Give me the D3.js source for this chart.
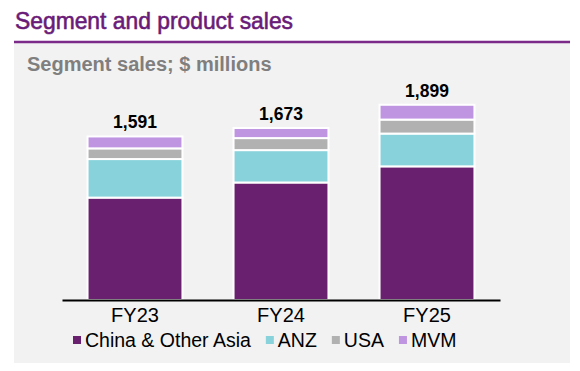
<!DOCTYPE html>
<html>
<head>
<meta charset="utf-8">
<script src="https://cdn.jsdelivr.net/npm/d3@7"></script>
<style>
    body { margin: 0; background: #fff; }
    svg { display: block; font-family: "Liberation Sans", Arial, sans-serif; }
</style>
</head>
<body>
<svg id="chart" width="580" height="371"></svg>
<script>
// data ($ millions)
const years = ["FY23", "FY24", "FY25"];
const segments = ["China & Other Asia", "ANZ", "USA", "MVM"];
const chinaAsia = [996, 1143, 1300];
const anz = [375, 315, 319];
const usa = [104, 117, 136];
const mvm = [116, 98, 144];
const totals = [1591, 1673, 1899];

const colors = ["#68206f", "#88d3db", "#b1b1b1", "#bf95e2"];

const svg = d3.select("#chart");
const width = 580, height = 371;

// panel + title
svg.append("rect")
    .attr("x", 14).attr("y", 43)
    .attr("width", 556).attr("height", 320)
    .attr("fill", "#f2f2f2");

svg.append("text")
    .attr("x", 15).attr("y", 29)
    .attr("fill", "#6a1b78")
    .attr("stroke", "#6a1b78")
    .attr("stroke-width", 0.6)
    .attr("font-size", 24)
    .attr("textLength", 278)
    .attr("lengthAdjust", "spacingAndGlyphs")
    .text("Segment and product sales");

svg.append("line")
    .attr("x1", 14).attr("x2", 570)
    .attr("y1", 42).attr("y2", 42)
    .attr("stroke", "#7b2a8a")
    .attr("stroke-width", 2.5);

svg.append("text")
    .attr("x", 27).attr("y", 71)
    .attr("fill", "#7f7f7f")
    .attr("font-size", 20)
    .attr("font-weight", "bold")
    .text("Segment sales; $ millions");

// scales
const x = d3.scaleBand()
    .domain(years)
    .range([62, 500])
    .paddingInner(0.35)
    .paddingOuter(0.175);

const y = d3.scaleLinear()
    .domain([0, 2000])
    .range([300, 94.4]);

// stacked bars
const table = years.map((yr, i) => ({
    year: yr,
    "China & Other Asia": chinaAsia[i],
    "ANZ": anz[i],
    "USA": usa[i],
    "MVM": mvm[i]
}));
const series = d3.stack().keys(segments)(table);

svg.append("g")
    .selectAll("g")
    .data(series)
    .join("g")
    .attr("fill", (d, i) => colors[i])
    .selectAll("rect")
    .data(d => d)
    .join("rect")
    .attr("x", d => x(d.data.year))
    .attr("y", d => y(d[1]))
    .attr("width", x.bandwidth())
    .attr("height", d => y(d[0]) - y(d[1]))
    .attr("stroke", "#fff")
    .attr("stroke-width", 2);

// totals
svg.append("g")
    .selectAll("text")
    .data(years)
    .join("text")
    .attr("x", d => x(d) + x.bandwidth() / 2)
    .attr("y", (d, i) => y(totals[i]) - 8)
    .attr("text-anchor", "middle")
    .attr("font-size", 17.5)
    .attr("font-weight", "bold")
    .attr("fill", "#000")
    .text((d, i) => d3.format(",")(totals[i]));

// x axis
const xAxis = svg.append("g")
    .attr("transform", "translate(0,300)")
    .call(d3.axisBottom(x).tickSize(0).tickPadding(8));
xAxis.select(".domain").attr("stroke", "#000").attr("stroke-width", 2);
xAxis.selectAll("text")
    .attr("font-size", 20)
    .attr("font-family", "Liberation Sans, Arial, sans-serif")
    .attr("fill", "#000");

// legend
const legend = svg.append("g").attr("transform", "translate(0,347)");
let lx = 73;
segments.forEach((s, i) => {
    legend.append("rect")
        .attr("x", lx).attr("y", -11)
        .attr("width", 8).attr("height", 8)
        .attr("fill", colors[i]);
    const t = legend.append("text")
        .attr("x", lx + 12).attr("y", 0)
        .attr("font-size", 19.5)
        .attr("fill", "#000")
        .text(s);
    lx += 12 + t.node().getComputedTextLength() + 15;
});
</script>
</body>
</html>
